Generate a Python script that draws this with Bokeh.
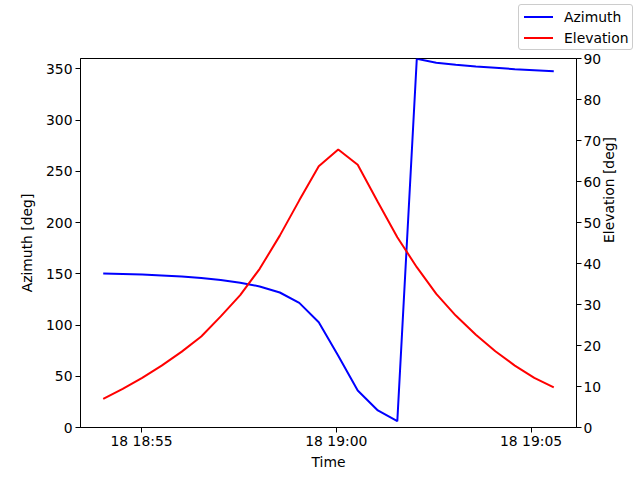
import math
from datetime import datetime
from bokeh.plotting import figure
from bokeh.layouts import column
from bokeh.models import (Range1d, LinearAxis, FixedTicker, DatetimeTickFormatter,
                          ColumnDataSource, Div)
from bokeh.embed import file_html
from bokeh.resources import INLINE

day = "2024-01-18"
times = ["18:54:01", "18:54:31", "18:55:01", "18:55:31", "18:56:02", "18:56:32",
         "18:57:02", "18:57:32", "18:58:02", "18:58:33", "18:59:03", "18:59:33",
         "19:00:03", "19:00:33", "19:01:04", "19:01:34", "19:02:04", "19:02:34",
         "19:03:04", "19:03:35", "19:04:05", "19:04:35", "19:05:05", "19:05:35"]
azimuth = [150.3, 149.8, 149.2, 148.4, 147.3, 145.9, 144.0, 141.3, 137.6, 131.7,
           121.6, 102.7, 70.0, 36.1, 16.6, 6.2, 359.7, 355.9, 353.8, 352.2,
           350.9, 349.6, 348.6, 347.6]
elevation = [7.0, 9.4, 12.1, 15.1, 18.5, 22.2, 27.1, 32.3, 38.7, 46.8,
             55.4, 63.7, 67.8, 64.1, 55.0, 46.4, 39.1, 32.6, 27.3, 22.6,
             18.6, 15.1, 12.1, 9.8]
series_names = ["Azimuth", "Elevation"]
series_colors = ["#0000ff", "#ff0000"]
x_ticks = ["18:55:00", "19:00:00", "19:05:00"]
x_start, x_end = "18:53:26", "19:06:10"
az_ticks = [0, 50, 100, 150, 200, 250, 300, 350]
el_ticks = [0, 10, 20, 30, 40, 50, 60, 70, 80, 90]

def dt(t):
    return datetime.strptime(day + " " + t, "%Y-%m-%d %H:%M:%S")

def ms(t):
    return (dt(t) - datetime(1970, 1, 1)).total_seconds() * 1000.0

src = ColumnDataSource(dict(t=[dt(t) for t in times], az=azimuth, el=elevation))

FONT = "DejaVu Sans"
FS = "13.9px"
W, H = 640, 480
TOP_H = 50

# ---- figure-level legend (upper right, above the axes) ----
rows_html = ""
for i, (name, col) in enumerate(zip(series_names, series_colors)):
    cy = 11.5 + 21.5 * i
    rows_html += (
        f'<div style="position:absolute;left:5px;top:{cy - 1}px;width:29px;height:2px;'
        f'background:{col};"></div>'
        f'<div style="position:absolute;left:45px;top:{cy - 9}px;height:18px;'
        f'line-height:18px;white-space:nowrap;color:black;">{name}</div>'
    )
legend_html = (
    f'<div style="position:relative;width:{W}px;height:{TOP_H}px;'
    f'font-family:\'{FONT}\';font-size:{FS};">'
    f'<div style="position:absolute;left:518px;top:4px;width:115px;height:46px;'
    f'box-sizing:border-box;border:1px solid #cccccc;border-radius:3px;'
    f'background:rgba(255,255,255,0.8);">{rows_html}</div></div>'
)
lg = Div(text=legend_html, width=W, height=TOP_H, margin=0)

# ---- main axes ----
p = figure(width=W, height=H - TOP_H, x_axis_type="datetime", output_backend="svg",
           toolbar_location=None,
           x_range=Range1d(dt(x_start), dt(x_end)), y_range=Range1d(0, 360),
           min_border_left=80, min_border_right=64, min_border_top=58 - TOP_H,
           min_border_bottom=53)
p.extra_y_ranges = {"el": Range1d(0, 90)}
p.grid.visible = False
p.outline_line_color = "black"
p.outline_line_width = 1
p.background_fill_color = "white"
p.border_fill_color = "white"

p.line("t", "az", source=src, line_color=series_colors[0], line_width=2)
p.line("t", "el", source=src, line_color=series_colors[1], line_width=2,
       y_range_name="el")

right = LinearAxis(y_range_name="el")
p.add_layout(right, "right")

xa = p.xaxis[0]
xa.ticker = FixedTicker(ticks=[ms(t) for t in x_ticks])
fmt = "%d %H:%M"
xa.formatter = DatetimeTickFormatter(seconds=fmt, minsec=fmt, minutes=fmt, hourmin=fmt,
                                     hours=fmt, days=fmt)
xa.axis_label = "Time"
p.yaxis[0].ticker = FixedTicker(ticks=az_ticks)
p.yaxis[0].axis_label = "Azimuth [deg]"
right.ticker = FixedTicker(ticks=el_ticks)
right.axis_label = "Elevation [deg]"
right.axis_label_orientation = math.pi / 2

for ax in [xa, p.yaxis[0], right]:
    ax.axis_line_color = "black"
    ax.major_tick_line_color = "black"
    ax.major_tick_out = 5
    ax.major_tick_in = 0
    ax.minor_tick_line_color = None
    ax.major_label_text_font = FONT
    ax.major_label_text_font_size = FS
    ax.major_label_text_color = "black"
    ax.axis_label_text_font = FONT
    ax.axis_label_text_font_size = FS
    ax.axis_label_text_font_style = "normal"
    ax.axis_label_text_color = "black"

xa.major_label_standoff = 0
xa.axis_label_standoff = 2
p.yaxis[0].major_label_standoff = 3
p.yaxis[0].axis_label_standoff = 8
right.major_label_standoff = 2
right.axis_label_standoff = 5

page = column(lg, p, spacing=0)
open("out.html", "w").write(file_html(page, INLINE))
